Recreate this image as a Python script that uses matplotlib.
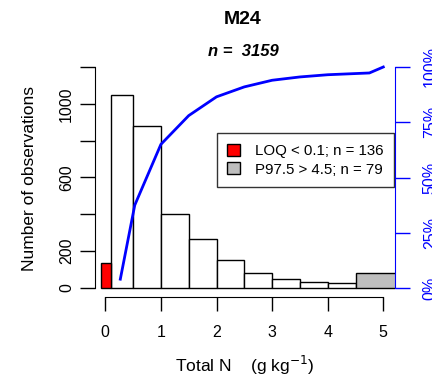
import numpy as np
import matplotlib.pyplot as plt

plt.rcParams['font.family'] = ['Liberation Sans', 'DejaVu Sans']

# histogram bins (g/kg) and counts
bin_edges = [0.1, 0.5, 1.0, 1.5, 2.0, 2.5, 3.0, 3.5, 4.0, 4.5]
counts = [1048, 878, 403, 267, 150, 80, 47, 33, 25]
loq_edges = [-0.07, 0.1]
loq_count = 136
p975_edges = [4.5, 5.22]
p975_count = 79

# cumulative curve
cum_x = [0.27, 0.53, 1.0, 1.5, 2.0, 2.5, 3.0, 3.5, 4.0, 4.75, 5.0]
cum_pct = [4, 37.5, 65, 78, 86.5, 91, 94, 95.5, 96.5, 97.3, 100]

fig = plt.figure(figsize=(4.32, 3.79), dpi=100)
W, H = 432, 379
x0, x1 = 95, 395
y0, y1 = 60, 297
ax = fig.add_axes([x0 / W, 1 - y1 / H, (x1 - x0) / W, (y1 - y0) / H])

px_per_x = 55.6
px_per_y = 221.0 / 1200
ax.set_xlim(-(105.3 - x0) / px_per_x, (x1 - 105.3) / px_per_x)
ax.set_ylim(-(y1 - 288) / px_per_y, (288 - y0) / px_per_y)

lefts = bin_edges[:-1]
widths = np.diff(bin_edges)
ax.bar(lefts, counts, width=widths, align='edge', color='white',
       edgecolor='black', linewidth=1)
ax.bar(loq_edges[0], loq_count, width=loq_edges[1] - loq_edges[0], align='edge',
       color='red', edgecolor='black', linewidth=1, label='LOQ < 0.1; n = 136')
ax.bar(p975_edges[0], p975_count, width=p975_edges[1] - p975_edges[0], align='edge',
       color='#bebebe', edgecolor='black', linewidth=1, label='P97.5 > 4.5; n = 79')

for s in ['top', 'right']:
    ax.spines[s].set_visible(False)
ax.spines['left'].set_bounds(0, 1200)
ax.spines['bottom'].set_bounds(0, 5)
ax.set_yticks([0, 200, 400, 600, 800, 1000, 1200])
ax.set_yticklabels(['0', '200', '', '600', '', '1000', ''], rotation=90, va='center')
ax.set_xticks([0, 1, 2, 3, 4, 5])
ax.tick_params(axis='y', length=11, width=1, labelsize=11.5, pad=4)
ax.tick_params(axis='x', length=10, width=1, labelsize=11.5, pad=10)

ax.set_ylabel('Number of observations', fontsize=12.5, labelpad=16)
ax.set_xlabel('Total N    (g kg$^{-1}$)', fontsize=12.5, labelpad=10)

ax2 = ax.twinx()
ax2.set_ylim(-(y1 - 288) / 221.0 * 100, (288 - y0) / 221.0 * 100)
ax2.plot(cum_x, cum_pct, color='blue', linewidth=2)
for s in ['top', 'left', 'bottom']:
    ax2.spines[s].set_visible(False)
ax2.spines['right'].set_color('blue')
ax2.spines['right'].set_bounds(0, 100)
ax2.set_yticks([0, 25, 50, 75, 100])
ax2.set_yticklabels(['0%', '25%', '50%', '75%', '100%'], rotation=90, va='center')
ax2.tick_params(axis='y', colors='blue', length=11, width=1, labelsize=11.5, pad=9)

leg = ax.legend(loc='upper left', bbox_to_anchor=((216.7 - x0) / (x1 - x0), 1 - (133.3 - y0) / (y1 - y0)),
                fontsize=10.8, frameon=True, fancybox=False, edgecolor='black',
                handlelength=0.85, handleheight=0.85, handletextpad=1.0,
                borderpad=0.7, labelspacing=0.3, borderaxespad=0)
leg.get_frame().set_linewidth(1)

fig.text(243 / W, 1 - 20 / H, 'M24', ha='center', va='center',
         fontsize=14, fontweight='bold')
fig.text(243 / W, 1 - 52 / H, 'n =  3159', ha='center', va='center',
         fontsize=12, fontweight='bold', style='italic')

fig.savefig('out.png', dpi=100)
